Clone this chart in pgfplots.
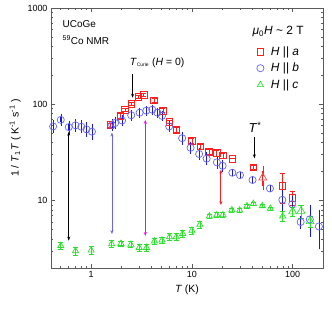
\documentclass[border=0pt]{standalone}
\usepackage{fontspec}
\setmainfont{Liberation Sans}
\usepackage{pgfplots}
\pgfplotsset{compat=1.18}
\usetikzlibrary{calc,arrows.meta}

\definecolor{cred}{RGB}{255,30,30}
\definecolor{cblue}{RGB}{100,100,255}
\definecolor{cblueerr}{RGB}{20,20,235}
\definecolor{cgreen}{RGB}{40,225,40}
\definecolor{cmag}{RGB}{255,0,255}
\definecolor{axgray}{RGB}{90,90,90}

\begin{document}
\begin{tikzpicture}
\begin{axis}[
  scale only axis, width=272bp, height=260bp,
  xmode=log, ymode=log,
  xmin=0.4, xmax=200, ymin=2, ymax=1000,
  xtick={1,10,100}, xticklabels={1,10,100},
  ytick={10,100,1000}, yticklabels={10,100,1000},
  minor xtick={0.4,0.5,0.6,0.7,0.8,0.9,2,3,4,5,6,7,8,9,20,30,40,50,60,70,80,90,200},
  minor ytick={2,3,4,5,6,7,8,9,20,30,40,50,60,70,80,90,200,300,400,500,600,700,800,900},
  tick align=inside,
  major tick length=4bp, minor tick length=2.2bp,
  axis line style={line width=0.9pt, axgray},
  every tick/.style={line width=0.6pt, axgray},
  ticklabel style={font=\fontsize{9}{10}\selectfont},
  xlabel={\textit{T} (K)},
  ylabel={1 / \textit{T}\textsubscript{1}\textit{T} ( K\textsuperscript{-1} s\textsuperscript{-1} )},
  label style={font=\fontsize{10.5}{12}\selectfont},
  legend style={draw=none, fill=none, at={(0.745,0.868)}, anchor=north west,
    font=\fontsize{12}{13}\selectfont, row sep=2.5pt,
    /tikz/every odd column/.append style={column sep=5pt}},
  legend cell align=left,
  error bars/error bar style={line width=0.6pt},
  error bars/error mark options={rotate=90, mark size=2.6pt, line width=0.6pt},
]
% H || a (red squares)
\addplot[only marks, mark=square, mark size=3.3pt, color=cred, line width=0.7pt,
  error bars/.cd, y dir=both, y explicit] coordinates {
 (1.55,61) +- (0,3)
 (1.95,76) +- (0,4)
 (2.17,88) +- (0,4)
 (2.52,101) +- (0,4)
 (2.94,120) +- (0,5)
 (3.32,125) +- (0,5)
 (4.22,110) +- (0,5)
 (5.15,86) +- (0,4)
 (6.0,66) +- (0,3)
 (7.0,54.6) +- (0,3)
 (10.0,41.5) +- (0,2.5)
 (12.1,36.5) +- (0,2)
 (14.8,32) +- (0,2)
 (17.6,31.2) +- (0,2)
 (20.3,29.5) +- (0,1.8)
 (25.3,27.3) +- (0,0)
 (40.6,22.2) +- (0,1)
 (79,14.3) +- (0,5)
 (99,10.7) +- (0,1.8)
};
\addlegendentry{\textit{H} || \textit{a}}
% H || b (blue circles)
\addplot[only marks, mark=o, mark size=3.6pt, color=cblue, line width=0.7pt,
  error bars/.cd, y dir=both, y explicit, error bar style={color=cblueerr}, error mark options={color=cblueerr}] coordinates {
 (0.42,59) +- (0,4)
 (0.5,69) +- (0,4)
 (0.6,58) +- (0,4)
 (0.7,60.5) +- (0,4)
 (0.8,58.5) +- (0,4)
 (0.9,55) +- (0,5)
 (1.02,52) +- (0,6)
 (1.62,61) +- (0,3)
 (1.73,64) +- (0,3)
 (2.03,68) +- (0,3)
 (2.5,77) +- (0,3)
 (3.03,82) +- (0,3)
 (3.53,86) +- (0,3)
 (4.05,88) +- (0,3)
 (4.55,82) +- (0,3)
 (5.05,76) +- (0,3)
 (5.95,59) +- (0,3)
 (8.0,44.5) +- (0,3)
 (9.7,35.4) +- (0,2)
 (11.8,30.5) +- (0,2)
 (14.0,27.3) +- (0,2)
 (17.7,25) +- (0,1.5)
 (20.2,23) +- (0,1.5)
 (25.2,19.5) +- (0,0)
 (30,18.4) +- (0,0)
 (40,16.4) +- (0,0)
 (59.5,13.4) +- (0,0)
 (79,10.2) +- (0,2)
 (99,9.2) +- (0,1)
 (120,6.0) +- (0,0.4)
 (148,6.4) +- (0,1.8)
 (182,5.4) +- (0,2)
};
\addlegendentry{\textit{H} || \textit{b}}
% H || c (green triangles)
\addplot[only marks, mark=triangle, mark size=3.6pt, color=cgreen, line width=0.7pt,
  error bars/.cd, y dir=both, y explicit] coordinates {
 (0.5,3.4) +- (0,0.3)
 (0.7,3.0) +- (0,0.3)
 (1.0,3.05) +- (0,0.3)
 (1.6,3.55) +- (0,0.3)
 (1.98,3.58) +- (0,0.25)
 (2.48,3.5) +- (0,0.25)
 (3.0,3.25) +- (0,0.25)
 (3.55,3.25) +- (0,0.25)
 (4.25,3.8) +- (0,0.3)
 (5.05,3.88) +- (0,0.3)
 (6.0,4.2) +- (0,0.35)
 (7.0,4.2) +- (0,0.35)
 (8.1,4.55) +- (0,0.35)
 (10,4.9) +- (0,0.4)
 (12,5.65) +- (0,0.45)
 (14.9,6.9) +- (0,0.4)
 (17.7,7.1) +- (0,0.4)
 (20.3,7.1) +- (0,0.4)
 (24.9,8.0) +- (0,0.4)
 (29.8,7.95) +- (0,0.4)
 (35.2,8.8) +- (0,0.4)
 (40.7,9.3) +- (0,0.4)
 (50,8.8) +- (0,0.3)
 (60,8.3) +- (0,0.3)
 (79.6,6.9) +- (0,0.8)
};
\addlegendentry{\textit{H} || \textit{c}}
% larger green triangles at high T
\addplot[only marks, mark=triangle, mark size=4.6pt, color=cgreen, line width=0.7pt, forget plot,
  error bars/.cd, y dir=both, y explicit] coordinates {
 (100,7.7) +- (0,0.8)
 (121,7.8) +- (0,1.2)
 (149,6.1) +- (0,0.8)
};
% red triangle
\addplot[only marks, mark=triangle, mark size=4.6pt, color=cred!80, line width=0.7pt, forget plot,
  error bars/.cd, y dir=both, y explicit, error bar style={color=cred}, error mark options={color=cred}] coordinates {
 (50.5,17.3) +- (0,3)
};

% arrows
\draw[black, line width=0.6pt, {Stealth[length=4pt,width=3pt]}-{Stealth[length=4pt,width=3pt]}] (axis cs:0.6,52) -- (axis cs:0.6,3.85);
\draw[cblue, line width=0.8pt, {Stealth[length=4pt,width=3pt]}-{Stealth[length=4pt,width=3pt]}] (axis cs:1.61,51) -- (axis cs:1.61,4.5);
\draw[cmag, line width=0.8pt, {Stealth[length=4pt,width=3pt]}-{Stealth[length=4pt,width=3pt]}] (axis cs:3.45,69) -- (axis cs:3.45,4.3);
\draw[cred, line width=0.8pt, {Stealth[length=4pt,width=3pt]}-{Stealth[length=4pt,width=3pt]}] (axis cs:19.4,21) -- (axis cs:19.4,9);
\draw[black, line width=0.6pt, -{Stealth[length=4pt,width=3pt]}] (axis cs:2.58,205) -- (axis cs:2.58,117);
\draw[black, line width=0.6pt, -{Stealth[length=4pt,width=3pt]}] (axis cs:41.7,46) -- (axis cs:41.7,27.5);

% texts
\node[anchor=west, font=\fontsize{10}{12}\selectfont] at (rel axis cs:0.03,0.938) {UCoGe};
\node[anchor=west, font=\fontsize{10}{12}\selectfont] at (rel axis cs:0.03,0.877) {\textsuperscript{59}Co NMR};
\node[font=\fontsize{10.5}{12}\selectfont] at (rel axis cs:0.39,0.79) {\textit{T}\textsubscript{\fontsize{5}{6}\selectfont Curie} (\textit{H} = 0)};
\node[font=\fontsize{13}{14}\selectfont] at (rel axis cs:0.75,0.54) {\textit{T}\textsuperscript{*}};
\node[font=\fontsize{12}{14}\selectfont] at (rel axis cs:0.835,0.908) {\textit{μ}\textsubscript{0}\textit{H} \textasciitilde\ 2 T};
\end{axis}
\pgfresetboundingbox
\path ($(current axis.south west)+(-51bp,-42bp)$) rectangle ($(current axis.north east)+(9bp,8bp)$);
\end{tikzpicture}
\end{document}
